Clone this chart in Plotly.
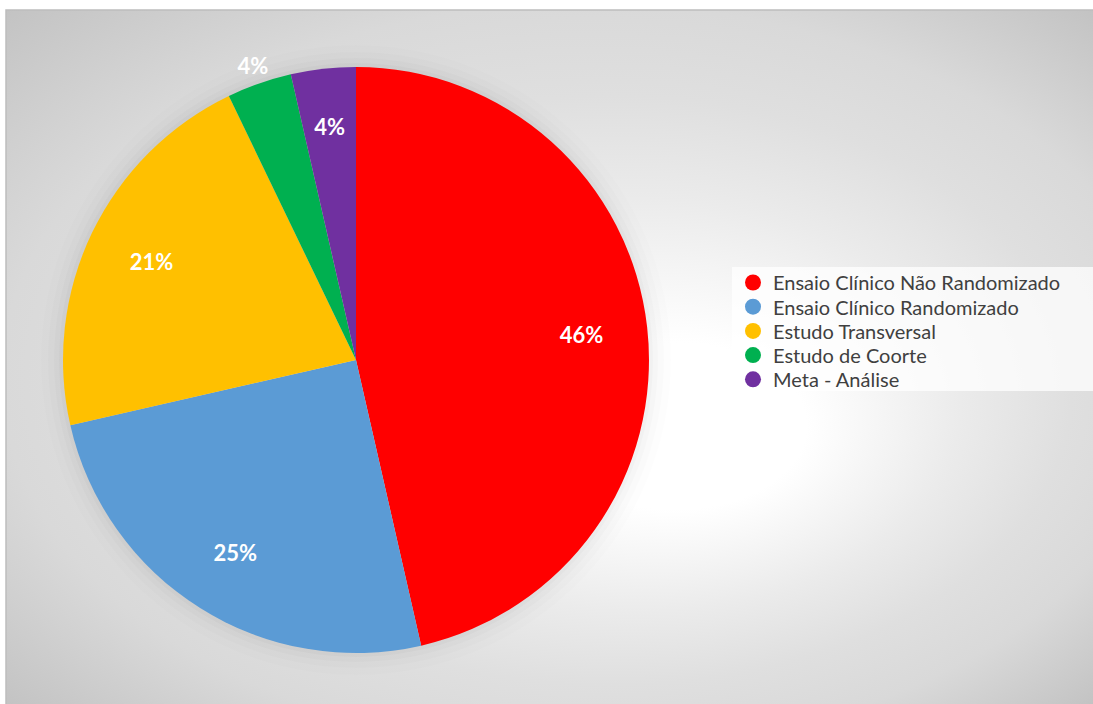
import base64
import plotly.graph_objects as go

# ---- data ----
categories = ["Ensaio Clínico Não Randomizado", "Ensaio Clínico Randomizado",
              "Estudo Transversal", "Estudo de Coorte", "Meta - Análise"]
counts = [13, 7, 6, 1, 1]
colors = ["#FF0000", "#5B9BD5", "#FFC000", "#00B050", "#7030A0"]

W, H = 1093, 704

# background gradient (svg data uri, focal radial gradient)
svg = """<svg xmlns='http://www.w3.org/2000/svg' width='1086' height='692' viewBox='0 0 1086 692' preserveAspectRatio='none'>
<defs><radialGradient id='g' gradientUnits='objectBoundingBox' cx='0.5' cy='0.5' r='0.7071' fx='0.64' fy='0.62'>
<stop offset='0' stop-color='#ffffff'/><stop offset='0.17' stop-color='#ffffff'/>
<stop offset='0.42' stop-color='#ebebeb'/><stop offset='0.6' stop-color='#dfdfdf'/>
<stop offset='0.76' stop-color='#d9d9d9'/><stop offset='1' stop-color='#c3c3c3'/>
</radialGradient></defs>
<rect x='0' y='0' width='1086' height='692' fill='url(#g)'/></svg>"""
src = "data:image/svg+xml;base64," + base64.b64encode(svg.encode()).decode()

cx, cy, R = 356, 360, 293
def dom(r):
    return dict(x=[(cx - r) / W, (cx + r) / W], y=[1 - (cy + r) / H, 1 - (cy - r) / H])

label_font = dict(family="Lato", size=22, color="white", weight="bold")

fig = go.Figure()
# main pie
fig.add_trace(go.Pie(
    labels=categories, values=counts, sort=False, direction="clockwise", rotation=0,
    marker=dict(colors=colors, line=dict(width=0)),
    textinfo="none", domain=dom(R), showlegend=False, hoverinfo="label+percent",
))
# transparent ring carrying the inside labels
fig.add_trace(go.Pie(
    labels=categories, values=counts, sort=False, direction="clockwise", rotation=0,
    hole=0.74,
    marker=dict(colors=["rgba(0,0,0,0)"] * 5, line=dict(width=0)),
    texttemplate="%{percent:.0%}",
    textposition=["inside", "inside", "inside", "none", "inside"],
    insidetextorientation="horizontal",
    textfont=label_font, insidetextfont=label_font,
    domain=dom(0.89 * R), showlegend=False, hoverinfo="skip",
))
# transparent wider ring carrying the outer label of the small green slice
fig.add_trace(go.Pie(
    labels=categories, values=counts, sort=False, direction="clockwise", rotation=0,
    hole=0.835,
    marker=dict(colors=["rgba(0,0,0,0)"] * 5, line=dict(width=0)),
    texttemplate="%{percent:.0%}",
    textposition=["none", "none", "none", "inside", "none"],
    insidetextorientation="horizontal",
    textfont=label_font, insidetextfont=label_font,
    domain=dom(340), showlegend=False, hoverinfo="skip",
))

# legend entries with circle markers, one legend per row for Excel-like spacing
row_y = [282.5, 306.7, 330.9, 355.1, 379.3]
legend_layouts = {}
for i, (lab, col) in enumerate(zip(categories, colors)):
    name = "legend" if i == 0 else f"legend{i + 1}"
    fig.add_trace(go.Scatter(x=[None], y=[None], mode="markers", name=lab,
                             legend=name,
                             marker=dict(color=col, size=18, symbol="circle")))
    legend_layouts[name] = dict(
        x=733 / W, y=1 - row_y[i] / H, xanchor="left", yanchor="middle",
        bgcolor="rgba(0,0,0,0)", borderwidth=0,
        font=dict(family="Lato", size=20, color="#404040"),
        itemclick=False, itemdoubleclick=False)

# soft shadow around the pie
shadow = []
for k, a in zip([4, 9, 15, 22], [0.02, 0.016, 0.012, 0.008]):
    r = R + k
    shadow.append(dict(type="circle", xref="paper", yref="paper",
                       x0=(cx - r) / W, x1=(cx + r) / W,
                       y0=1 - (cy + r) / H, y1=1 - (cy - r) / H,
                       fillcolor=f"rgba(0,0,0,{a})", line=dict(width=0), layer="below"))

fig.update_layout(
    width=W, height=H,
    margin=dict(l=0, r=0, t=0, b=0, autoexpand=False),
    paper_bgcolor="white", plot_bgcolor="rgba(0,0,0,0)",
    xaxis=dict(visible=False), yaxis=dict(visible=False),
    images=[dict(source=src, xref="paper", yref="paper",
                 x=6 / W, y=1 - 10 / H, sizex=1087 / W, sizey=694 / H,
                 xanchor="left", yanchor="top", sizing="stretch", layer="below")],
    shapes=shadow + [
        dict(type="rect", xref="paper", yref="paper",
             x0=732 / W, x1=1.01, y0=1 - 391 / H, y1=1 - 267 / H,
             fillcolor="rgba(255,255,255,0.75)", line=dict(width=0), layer="below"),
        dict(type="rect", xref="paper", yref="paper",
             x0=6 / W, x1=1.01, y0=-0.01, y1=1 - 10 / H,
             line=dict(color="#bdbdbd", width=1.5), layer="above"),
    ],
    showlegend=True,
    **legend_layouts,
)

fig.write_html("out.html")
